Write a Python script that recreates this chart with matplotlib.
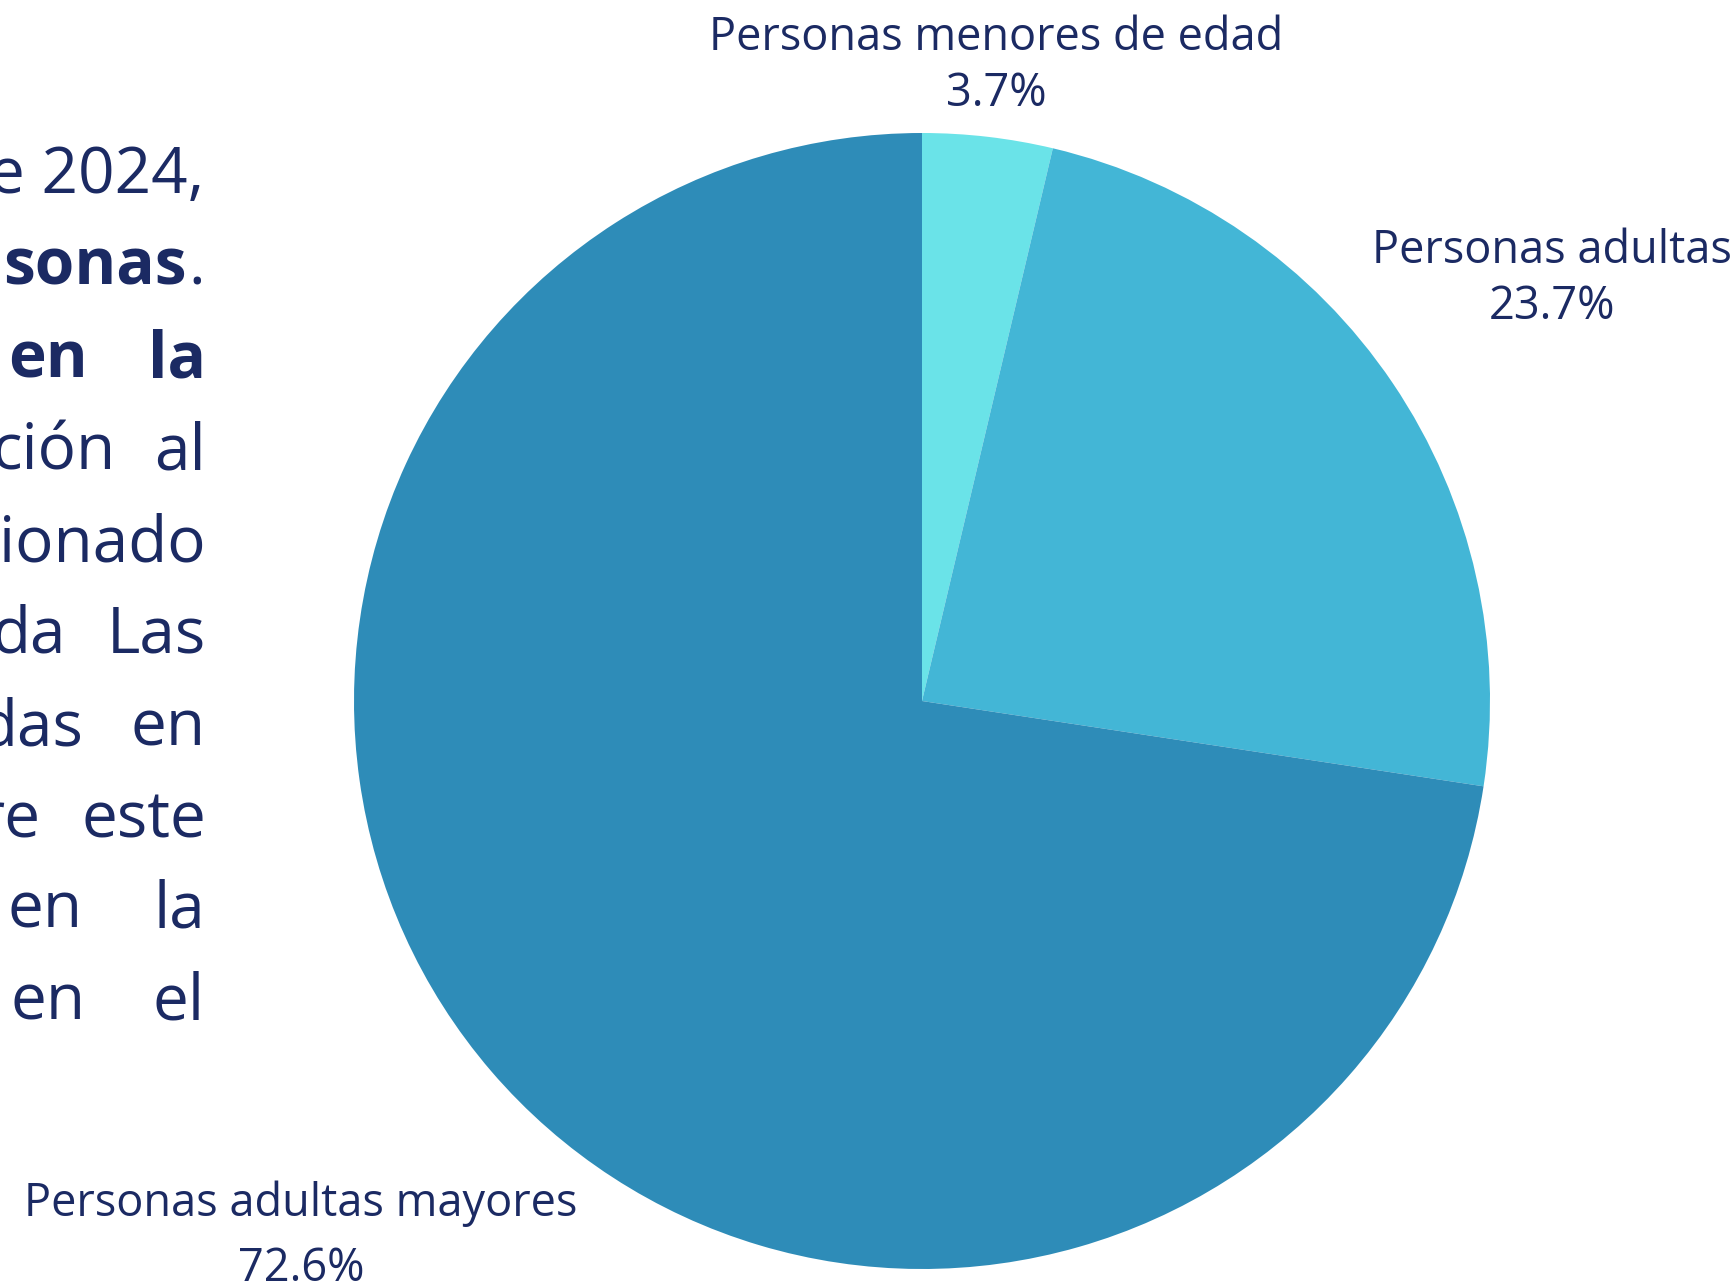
import matplotlib.pyplot as plt

# data
categorias = ["Personas menores de edad", "Personas adultas", "Personas adultas mayores"]
porcentajes = [3.7, 23.7, 72.6]
colores = ["#6ae3e8", "#43b6d6", "#2e8cb8"]

# label centres in pie units (radius = 1) and their line spacing
pos_etiquetas = [(0.13, 1.118), (1.109, 0.743), (-1.093, -0.942)]
interlineado = [1.27, 1.27, 1.55]

# cropped paragraph on the left: (text, right edge px, bold)
parrafo = [
    [("e 2024,", 204, False)],
    [("sonas", 187, True), (".", 205, False)],
    [("en", 88, True), ("la", 206, True)],
    [("ción", 116, False), ("al", 206, False)],
    [("ionado", 206, False)],
    [("da", 66, False), ("Las", 206, False)],
    [("das", 83, False), ("en", 206, False)],
    [("re", 41, False), ("este", 206, False)],
    [("en", 83, False), ("la", 205, False)],
    [("en", 86, False), ("el", 205, False)],
]
linea_base = [193, 285, 377, 469, 561, 653, 745, 837, 928, 1020]

AZUL = "#1b2a63"
W, H = 1736, 1287
plt.rcParams['font.family'] = ['Open Sans', 'DejaVu Sans']

fig = plt.figure(figsize=(W / 100, H / 100), dpi=100)
cx, cy, r = 922, 701, 568
ax = fig.add_axes([(cx - r) / W, (H - cy - r) / H, 2 * r / W, 2 * r / H])
ax.pie(porcentajes, colors=colores, startangle=90, counterclock=False,
       radius=1, wedgeprops=dict(linewidth=0))
ax.set_xlim(-1, 1)
ax.set_ylim(-1, 1)
ax.set_aspect('equal')
ax.axis('off')

for cat, val, (x, y), ls in zip(categorias, porcentajes, pos_etiquetas, interlineado):
    ax.text(x, y, f"{cat}\n{val:.1f}%", ha='center', va='center',
            fontsize=32.5, color=AZUL, linespacing=ls)

for linea, y in zip(parrafo, linea_base):
    for txt, xr, negrita in linea:
        fig.text(xr / W, 1 - y / H, txt, ha='right', va='baseline',
                 fontsize=46, color=AZUL,
                 fontweight='bold' if negrita else 'normal')

fig.savefig("out.png", dpi=100, facecolor='white')
